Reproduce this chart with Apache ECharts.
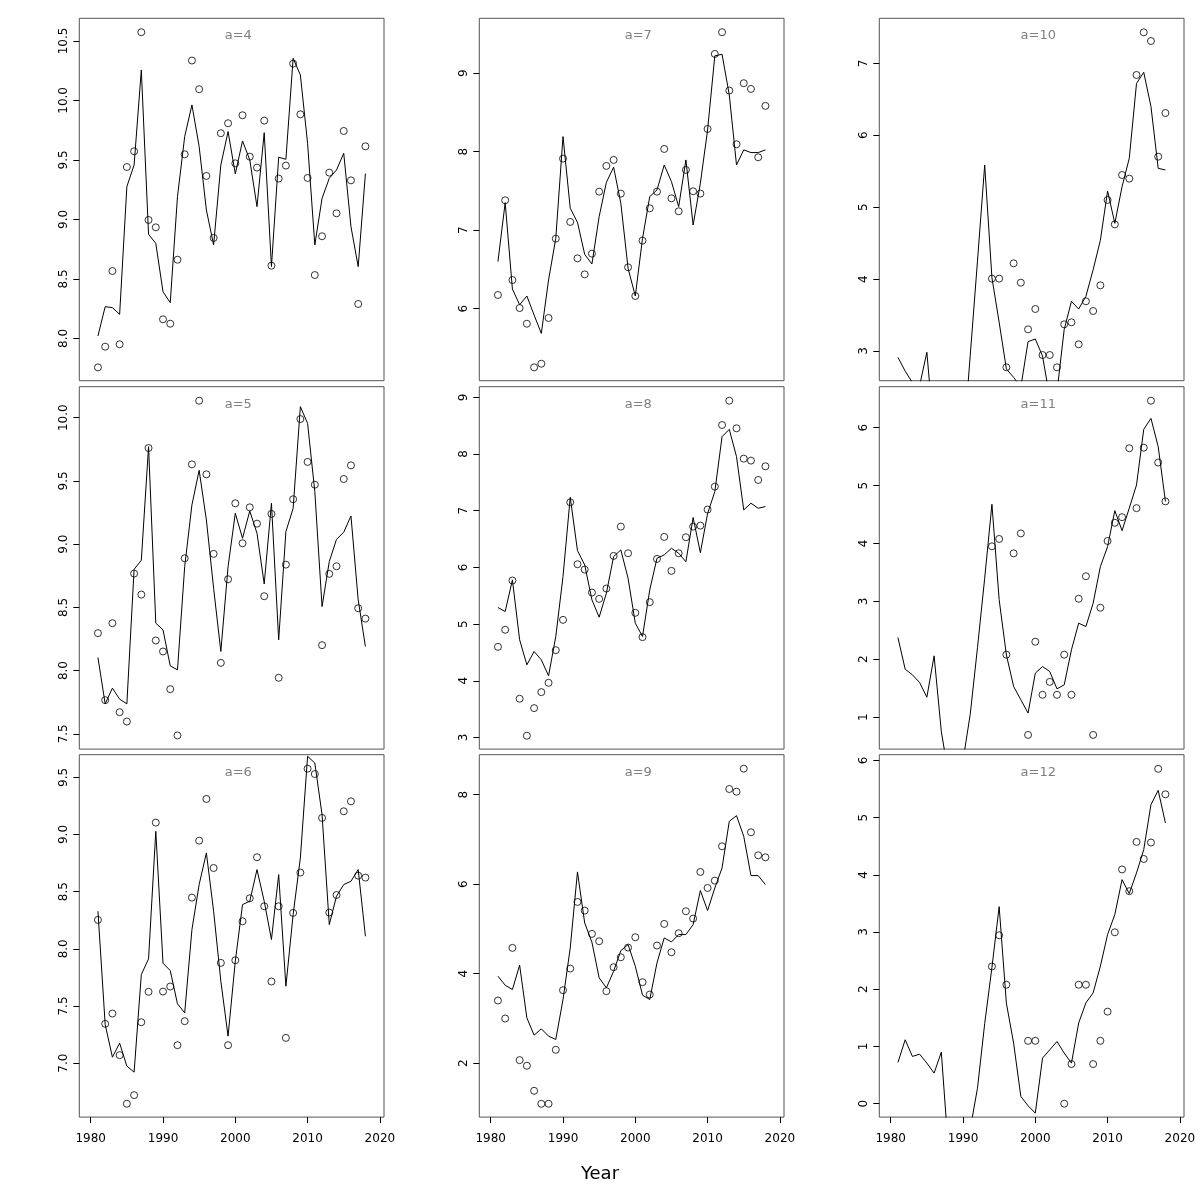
<!DOCTYPE html>
<html><head><meta charset="utf-8">
<script src="https://cdn.jsdelivr.net/npm/echarts@6/dist/echarts.min.js"></script>
<style>html,body{margin:0;padding:0;background:#fff}#c{width:1200px;height:1200px}</style>
</head><body><div id="c"></div>
<script>
const years = [1981,1982,1983,1984,1985,1986,1987,1988,1989,1990,1991,1992,1993,1994,1995,1996,1997,1998,1999,2000,2001,2002,2003,2004,2005,2006,2007,2008,2009,2010,2011,2012,2013,2014,2015,2016,2017,2018];
const xTicks = [1980,1990,2000,2010,2020];

const line_a4 = [8.02,8.266,8.258,8.202,9.275,9.457,10.256,8.874,8.799,8.392,8.30,9.191,9.696,9.962,9.612,9.079,8.785,9.457,9.738,9.382,9.659,9.50,9.107,9.729,8.603,9.522,9.505,10.354,10.214,9.64,8.785,9.177,9.345,9.415,9.555,8.939,8.603,9.385];
const pts_a4 = [7.756,7.93,8.566,7.95,9.44,9.572,10.573,8.995,8.933,8.16,8.123,8.661,9.547,10.335,10.094,9.365,8.844,9.724,9.808,9.471,9.875,9.527,9.435,9.83,8.611,9.343,9.452,10.309,9.883,9.348,8.532,8.858,9.393,9.051,9.743,9.328,8.289,9.614];
const ticks_a4 = [8.0,8.5,9.0,9.5,10.0,10.5];

const line_a5 = [8.103,7.737,7.861,7.774,7.737,8.801,8.872,9.771,8.375,8.322,8.037,8.006,8.822,9.31,9.584,9.191,8.651,8.151,8.822,9.244,9.046,9.262,9.086,8.685,9.323,8.243,9.099,9.283,10.087,9.955,9.415,8.506,8.862,9.038,9.094,9.223,8.559,8.19];
const pts_a5 = [8.296,7.766,8.375,7.671,7.597,8.767,8.601,9.76,8.238,8.151,7.853,7.487,8.888,9.631,10.134,9.552,8.923,8.061,8.722,9.323,9.007,9.291,9.162,8.588,9.239,7.943,8.838,9.355,9.989,9.65,9.47,8.201,8.765,8.825,9.515,9.623,8.493,8.411];
const ticks_a5 = [7.5,8.0,8.5,9.0,9.5,10.0];

const line_a6 = [8.329,7.338,7.052,7.175,6.974,6.921,7.775,7.912,9.028,7.874,7.81,7.519,7.44,8.168,8.562,8.839,8.329,7.717,7.236,7.892,8.387,8.416,8.693,8.416,8.081,8.649,7.673,8.3,8.795,9.684,9.625,9.174,8.212,8.46,8.562,8.591,8.693,8.11];
const pts_a6 = [8.253,7.344,7.434,7.07,6.645,6.72,7.358,7.624,9.104,7.626,7.67,7.157,7.367,8.448,8.946,9.311,8.707,7.877,7.157,7.90,8.241,8.442,8.801,8.372,7.714,8.372,7.221,8.314,8.667,9.576,9.529,9.145,8.317,8.471,9.203,9.29,8.64,8.623];
const ticks_a6 = [7.0,7.5,8.0,8.5,9.0,9.5];

const line_a7 = [6.599,7.351,6.25,6.05,6.161,5.919,5.685,6.365,6.896,8.193,7.279,7.1,6.692,6.569,7.173,7.61,7.802,7.343,6.514,6.161,6.896,7.428,7.513,7.831,7.619,7.3,7.895,7.066,7.598,8.277,9.221,9.242,8.724,7.831,8.023,7.989,7.989,8.023];
const pts_a7 = [6.174,7.381,6.365,6.008,5.808,5.252,5.298,5.881,6.892,7.912,7.105,6.641,6.437,6.701,7.491,7.819,7.895,7.466,6.527,6.161,6.867,7.279,7.491,8.035,7.406,7.241,7.768,7.496,7.466,8.29,9.246,9.523,8.779,8.095,8.873,8.80,7.929,8.584];
const ticks_a7 = [6,7,8,9];

const line_a8 = [5.293,5.222,5.78,4.723,4.282,4.517,4.37,4.088,4.781,5.839,7.237,6.297,6.045,5.428,5.122,5.545,6.191,6.309,5.81,5.016,4.781,5.604,6.162,6.221,6.338,6.25,6.10,6.88,6.26,6.95,7.337,8.307,8.436,7.954,7.014,7.132,7.044,7.073];
const pts_a8 = [4.599,4.90,5.769,3.683,3.031,3.518,3.80,3.965,4.54,5.075,7.149,6.056,5.962,5.557,5.445,5.627,6.203,6.72,6.25,5.199,4.77,5.387,6.15,6.538,5.939,6.25,6.532,6.72,6.738,7.02,7.425,8.512,8.941,8.454,7.919,7.884,7.543,7.784];
const ticks_a8 = [3,4,5,6,7,8,9];

const line_a9 = [3.942,3.741,3.644,4.188,3.011,2.624,2.765,2.602,2.527,3.421,4.575,6.273,5.133,4.701,3.905,3.681,4.054,4.515,4.649,4.165,3.518,3.421,4.24,4.798,4.709,4.873,4.873,5.096,5.856,5.409,5.915,6.362,7.404,7.531,7.069,6.191,6.191,5.99];
const pts_a9 = [3.398,2.996,4.575,2.066,1.939,1.38,1.09,1.09,2.296,3.629,4.113,5.602,5.409,4.888,4.724,3.607,4.143,4.366,4.582,4.813,3.808,3.532,4.627,5.111,4.478,4.902,5.394,5.23,6.273,5.915,6.079,6.846,8.127,8.067,8.581,7.159,6.645,6.6];
const ticks_a9 = [2,4,6,8];

const line_a10 = [2.912,2.72,2.56,2.52,2.982,1.82,1.5,1.3,1.4,1.64,2.94,4.25,5.586,4.02,3.40,2.75,2.634,2.5,3.13,3.167,2.93,2.35,2.43,3.3,3.69,3.584,3.76,4.13,4.54,5.225,4.775,5.285,5.68,6.72,6.875,6.40,5.54,5.517];
const pts_a10 = [null,null,null,null,null,null,null,null,null,null,null,null,null,4.006,4.006,2.773,4.219,3.95,3.301,3.584,2.944,2.944,2.773,3.371,3.399,3.093,3.691,3.556,3.913,5.1,4.761,5.447,5.396,6.838,7.431,7.31,5.702,6.309];
const ticks_a10 = [3,4,5,6,7];

const line_a11 = [2.375,1.828,1.731,1.598,1.344,2.059,0.752,0.0,-0.1,0.25,1.05,2.2,3.4,4.677,3.03,2.075,1.53,1.30,1.07,1.76,1.874,1.788,1.489,1.558,2.162,2.623,2.565,2.968,3.6,3.946,4.567,4.222,4.61,5.01,5.971,6.161,5.672,4.728];
const pts_a11 = [null,null,null,null,null,null,null,null,null,null,null,null,null,3.951,4.078,2.079,3.829,4.174,0.693,2.303,1.386,1.609,1.386,2.079,1.386,3.045,3.434,0.693,2.89,4.043,4.357,4.454,5.645,4.61,5.655,6.466,5.398,4.727];
const ticks_a11 = [1,2,3,4,5,6];

const line_a12 = [0.721,1.117,0.826,0.866,0.709,0.535,0.901,-0.845,-0.9,-0.8,-0.44,0.27,1.4,2.38,3.444,1.757,1.058,0.127,-0.036,-0.164,0.797,0.942,1.087,0.884,0.709,1.41,1.762,1.937,2.403,2.956,3.305,3.916,3.672,4.033,4.44,5.226,5.476,4.906];
const pts_a12 = [null,null,null,null,null,null,null,null,null,null,null,null,null,2.398,2.944,2.079,null,null,1.099,1.099,null,null,null,0,0.693,2.079,2.079,0.693,1.099,1.609,2.996,4.094,3.714,4.575,4.277,4.564,5.852,5.407];
const ticks_a12 = [0,1,2,3,4,5,6];

// layout
const colLeft = [79.3, 479.3, 879.3];
const rowTop = [18.3, 386.7, 754.7];
const W = 304.7, H = 362.4;
const xMin = 1978.42, xMax = 2020.57;

const panels = [
  {title:'a=4', line:line_a4, pts:pts_a4, ticks:ticks_a4, dec:1, min:7.644, max:10.69, col:0, row:0},
  {title:'a=5', line:line_a5, pts:pts_a5, ticks:ticks_a5, dec:1, min:7.379, max:10.245, col:0, row:1},
  {title:'a=6', line:line_a6, pts:pts_a6, ticks:ticks_a6, dec:1, min:6.528, max:9.698, col:0, row:2},
  {title:'a=7', line:line_a7, pts:pts_a7, ticks:ticks_a7, dec:0, min:5.082, max:9.70, col:1, row:0},
  {title:'a=8', line:line_a8, pts:pts_a8, ticks:ticks_a8, dec:0, min:2.795, max:9.188, col:1, row:1},
  {title:'a=9', line:line_a9, pts:pts_a9, ticks:ticks_a9, dec:0, min:0.792, max:8.894, col:1, row:2},
  {title:'a=10', line:line_a10, pts:pts_a10, ticks:ticks_a10, dec:0, min:2.587, max:7.626, col:2, row:0},
  {title:'a=11', line:line_a11, pts:pts_a11, ticks:ticks_a11, dec:0, min:0.448, max:6.708, col:2, row:1},
  {title:'a=12', line:line_a12, pts:pts_a12, ticks:ticks_a12, dec:0, min:-0.234, max:6.099, col:2, row:2}
];

const FONT = 'DejaVu Sans';
const option = {animation:false, backgroundColor:'#fff', grid:[], xAxis:[], yAxis:[], series:[], graphic:[]};

panels.forEach((p, i) => {
  const left = colLeft[p.col], top = rowTop[p.row];
  const bottomRow = p.row === 2;
  option.grid.push({left:left, top:top, width:W, height:H, show:true, borderColor:'#555', borderWidth:1, backgroundColor:'transparent'});
  option.xAxis.push({
    gridIndex:i, type:'value', min:xMin, max:xMax, position:'bottom',
    axisLine:{show:false, onZero:false}, splitLine:{show:false},
    axisTick:{show:bottomRow, customValues:xTicks, length:6, lineStyle:{color:'#000', width:1}},
    axisLabel:{show:bottomRow, customValues:xTicks, margin:16, fontSize:12, color:'#000', fontFamily:FONT,
      formatter: v => String(Math.round(v))}
  });
  option.yAxis.push({
    gridIndex:i, type:'value', min:p.min, max:p.max, position:'left',
    axisLine:{show:false, onZero:false}, splitLine:{show:false},
    axisTick:{show:true, customValues:p.ticks, length:6, lineStyle:{color:'#000', width:1}},
    axisLabel:{customValues:p.ticks, rotate:90, margin:9, fontSize:12, color:'#000', fontFamily:FONT,
      formatter: v => Number(v).toFixed(p.dec)}
  });
  const lineData = years.map((y, k) => [y, p.line[k]]);
  const ptData = years.map((y, k) => [y, p.pts[k]]).filter(d => d[1] !== null);
  option.series.push({
    type:'line', xAxisIndex:i, yAxisIndex:i, data:lineData, symbol:'none', clip:true,
    lineStyle:{color:'#000', width:1}, silent:true
  });
  option.series.push({
    type:'scatter', xAxisIndex:i, yAxisIndex:i, data:ptData, symbol:'circle', symbolSize:7, clip:true,
    itemStyle:{color:'rgba(0,0,0,0)', borderColor:'#000', borderWidth:1}, silent:true
  });
  option.graphic.push({
    type:'text', x:left + 159, y:top + 17.7, silent:true,
    style:{text:p.title, fill:'#808080', font:'13px "DejaVu Sans"', textAlign:'center', textVerticalAlign:'middle'}
  });
});

option.graphic.push({
  type:'text', x:600, y:1174, silent:true,
  style:{text:'Year', fill:'#000', font:'18px "DejaVu Sans"', textAlign:'center', textVerticalAlign:'middle'}
});

const chart = echarts.init(document.getElementById('c'), null, {renderer:'canvas'});
chart.setOption(option);
</script>
</body></html>
